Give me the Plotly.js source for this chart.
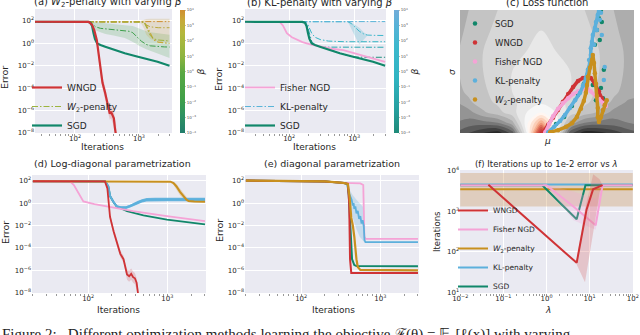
<!DOCTYPE html>
<html>
<head>
<meta charset="utf-8">
<script src="https://cdn.plot.ly/plotly-3.0.1.min.js"></script>
<style>body{margin:0;background:#fff}#chart{width:640px;height:335px}</style>
</head>
<body>
<div id="chart"></div>
<script>
// ---------- tick labels ----------
var itTickVals = [100, 1000];
var itTicks = ['10<sup>2</sup>', '10<sup>3</sup>'];
var errTickVals = [1e-8, 1e-6, 1e-4, 1e-2, 1, 100];
var errTicks = ['10<sup>−8</sup>', '10<sup>−6</sup>', '10<sup>−4</sup>', '10<sup>−2</sup>', '10<sup>0</sup>', '10<sup>2</sup>'];
var lamTickVals = [0.01, 0.1, 1, 10, 100];
var lamTicks = ['10<sup>−2</sup>', '10<sup>−1</sup>', '10<sup>0</sup>', '10<sup>1</sup>', '10<sup>2</sup>'];
var fItTickVals = [10, 100, 1000, 10000];
var fItTicks = ['10<sup>1</sup>', '10<sup>2</sup>', '10<sup>3</sup>', '10<sup>4</sup>'];
var betaTickVals = [-4, -3, -2, -1, 0, 1, 2, 3, 4];
var betaTicks = ['10<sup>−4</sup>', '10<sup>−3</sup>', '10<sup>−2</sup>', '10<sup>−1</sup>', '10<sup>0</sup>', '10<sup>1</sup>', '10<sup>2</sup>', '10<sup>3</sup>', '10<sup>4</sup>'];

// ---------- (a) / (b) ----------
var sgdIters = [20, 100, 160, 175, 185, 195, 205, 222, 250, 297, 400, 600, 900, 1300, 1950, 3000];
var sgdErr = [85, 85, 83, 70, 35, 8, 2.5, 1.0, 0.7, 0.5, 0.27, 0.13, 0.07, 0.04, 0.023, 0.01];

var wngdIters = [20, 100, 165, 185, 200, 219, 245, 269, 295, 331, 350, 365, 385, 405, 420, 440];
var wngdErr = [85, 85, 83, 45, 15, 2, 0.008, 3e-4, 4e-5, 1.2e-6, 5e-7, 8e-7, 3e-7, 2e-7, 3e-8, 5e-9];
var wngdHi = [85, 85, 83, 50, 20, 3, 0.02, 1e-3, 1.5e-4, 4e-6, 2e-6, 2.5e-6, 1.5e-6, 8e-7, 2e-7, 5e-8];
var wngdLo = [85, 85, 83, 40, 10, 1.2, 0.003, 1e-4, 1e-5, 4e-7, 1.5e-7, 2e-7, 8e-8, 4e-8, 5e-9, 1e-9];

var betaIters = [20, 100, 170, 190, 210, 250, 300, 400, 500, 600, 700, 800, 900, 1000, 1100, 1200, 1300, 1500, 1700, 2000, 2500, 3000];
var w2BetaSmall = [85, 85, 84, 50, 30, 22, 20, 18, 16, 14, 12, 9, 5, 2.5, 1.5, 1.0, 0.8, 0.6, 0.55, 0.5, 0.48, 0.47];
var w2BetaMid = [85, 85, 85, 85, 85, 85, 85, 85, 85, 85, 85, 85, 85, 85, 84, 80, 30, 5, 2.5, 2, 1.8, 1.6];
var w2BetaHigh = [85, 85, 85, 85, 85, 85, 85, 85, 85, 85, 85, 85, 85, 85, 84, 78, 40, 8, 2, 1.3, 1.1, 1.0];
var w2BetaHigher = [85, 85, 85, 85, 85, 85, 85, 85, 85, 85, 85, 85, 85, 85, 85, 70, 45, 30, 27, 25, 25, 25];
var w2BetaTop = [88, 88, 88, 88, 88, 88, 88, 88, 88, 88, 88, 88, 88, 88, 88, 88, 88, 88, 88, 88, 88, 88];
var greenHi = [85, 85, 85, 85, 85, 70, 60, 50, 45, 42, 40, 35, 28, 22, 18, 14, 12, 10, 9, 8, 7, 6];
var greenLo = [85, 85, 84, 30, 15, 10, 7, 5, 4, 3, 2, 1.4, 0.9, 0.6, 0.45, 0.35, 0.3, 0.22, 0.17, 0.12, 0.08, 0.05];
var goldIters = [1000, 1100, 1200, 1300, 1500, 1700, 2000, 2500, 3000];
var goldHi = [90, 110, 130, 150, 160, 160, 160, 160, 160];
var goldLo = [80, 50, 20, 6, 2.5, 1.8, 1.5, 1.4, 1.3];

var fisherIters = [20, 60, 72, 80, 92, 110, 132, 160, 210, 300, 450, 680, 1000, 1500, 2200, 3000];
var fisherErr = [85, 85, 80, 40, 8, 3.5, 2, 1.3, 0.8, 0.5, 0.33, 0.25, 0.13, 0.07, 0.04, 0.022];

var klIters = [20, 100, 175, 190, 205, 222, 250, 300, 400, 500, 600, 700, 800, 900, 1000, 1100, 1200, 1400, 1600, 2000, 2500, 3000];
var klTop = [88, 88, 88, 88, 88, 88, 88, 88, 88, 88, 88, 88, 88, 88, 88, 88, 88, 88, 88, 88, 88, 88];
var klLate = [85, 85, 85, 85, 85, 85, 85, 85, 85, 85, 85, 85, 85, 60, 35, 20, 12, 7, 5.5, 5.2, 5.1, 5];
var klMid = [85, 85, 85, 60, 25, 8, 3.5, 2.2, 1.6, 1.45, 1.4, 1.4, 1.4, 1.4, 1.4, 1.4, 1.4, 1.4, 1.4, 1.4, 1.4, 1.4];
var klLow = [85, 85, 80, 40, 8, 1.5, 0.7, 0.5, 0.46, 0.45, 0.45, 0.45, 0.45, 0.45, 0.45, 0.45, 0.45, 0.45, 0.45, 0.45, 0.45, 0.45];
var klLowest = [85, 85, 70, 20, 2.5, 1.0, 0.7, 0.5, 0.27, 0.19, 0.13, 0.1, 0.08, 0.065, 0.06, 0.058, 0.057, 0.057, 0.057, 0.057, 0.057, 0.057];
var klBandIters = [800, 900, 1000, 1100, 1200, 1400, 1600];
var klBandHi = [88, 75, 50, 35, 25, 10, 6];
var klBandLo = [85, 20, 5, 2, 0.8, 2, 5];

// ---------- (c) loss landscape + trajectories ----------
var muGrid = [-3, -2.5, -2, -1.5, -1, -0.5, 0, 0.5, 1, 1.5, 2, 2.5, 3, 3.5];
var sigmaGrid = [0, 0.25, 0.5, 0.75, 1, 1.5, 2, 2.5, 3];
var lossGrid = [
  [0.85, 0.9, 0.95, 0.98, 0.88, 0.55, 0.05, 0.55, 0.88, 0.98, 0.97, 0.93, 0.88, 0.85],
  [0.8, 0.82, 0.82, 0.8, 0.72, 0.52, 0.3, 0.52, 0.72, 0.8, 0.82, 0.82, 0.8, 0.78],
  [0.8, 0.77, 0.71, 0.67, 0.62, 0.55, 0.5, 0.55, 0.62, 0.67, 0.71, 0.77, 0.8, 0.8],
  [0.76, 0.71, 0.67, 0.64, 0.61, 0.58, 0.56, 0.58, 0.61, 0.64, 0.67, 0.71, 0.76, 0.77],
  [0.72, 0.69, 0.66, 0.63, 0.6, 0.58, 0.57, 0.58, 0.6, 0.63, 0.66, 0.69, 0.72, 0.73],
  [0.71, 0.68, 0.65, 0.63, 0.6, 0.59, 0.58, 0.59, 0.6, 0.63, 0.65, 0.68, 0.71, 0.72],
  [0.71, 0.68, 0.65, 0.63, 0.61, 0.6, 0.59, 0.6, 0.61, 0.63, 0.65, 0.68, 0.71, 0.72],
  [0.72, 0.69, 0.66, 0.64, 0.62, 0.61, 0.6, 0.61, 0.62, 0.64, 0.66, 0.69, 0.72, 0.73],
  [0.73, 0.7, 0.67, 0.65, 0.63, 0.62, 0.61, 0.62, 0.63, 0.65, 0.67, 0.7, 0.73, 0.74]
];
var sgdMu = [0.17, 0.51, 0.79, 1.06, 1.27, 1.47, 1.61, 1.75, 1.85, 1.92, 1.99, 2.06, 2.09, 2.02, 2.16, 2.06, 2.13, 1.78, 1.89];
var sgdSigma = [0.05, 0.22, 0.39, 0.66, 0.93, 1.2, 1.44, 1.78, 2.15, 2.51, 2.8, 3.0, 2.71, 2.27, 1.54, 1.1, 0.85, 1.17, 0.8];
var wngdMu = [0.07, 0.24, 0.41, 0.58, 0.75, 0.93, 1.10, 1.27, 1.44, 1.58, 1.71, 1.85, 1.99, 2.09, 2.19];
var wngdSigma = [0.02, 0.2, 0.37, 0.56, 0.76, 0.95, 1.12, 1.27, 1.34, 1.37, 1.34, 1.2, 1.02, 0.85, 0.68];
var fisherMu = [0.14, 0.27, 0.41, 0.58, 0.75, 0.93, 1.10, 1.27, 1.44, 1.58, 1.71, 1.85, 1.99, 2.13, 2.23];
var fisherSigma = [0.02, 0.22, 0.41, 0.59, 0.73, 0.85, 0.95, 1.02, 1.07, 1.1, 1.02, 0.93, 0.83, 0.73, 0.66];
var klMu = [0.24, 0.45, 0.65, 0.82, 0.99, 1.17, 1.34, 1.44, 1.54, 1.61, 1.68, 1.71, 1.71, 1.75, 1.78, 1.85, 1.89, 1.95, 1.99, 2.06, 1.92, 1.82, 1.65, 2.19, 2.16, 2.02, 2.09];
var klSigma = [0.02, 0.15, 0.29, 0.44, 0.61, 0.8, 0.98, 1.15, 1.34, 1.54, 1.71, 1.9, 2.07, 2.22, 2.39, 2.56, 2.71, 2.88, 3.0, 2.93, 2.51, 2.15, 1.78, 1.61, 1.29, 2.76, 2.39];
var w2Mu = [0.31, 0.58, 0.86, 1.06, 1.23, 1.37, 1.47, 1.54, 1.58, 1.61, 1.68, 1.75, 1.78, 1.82, 1.85, 1.89, 1.92, 1.95, 1.95, 1.99, 2.06, 2.13, 2.19, 2.26];
var w2Sigma = [0.02, 0.07, 0.15, 0.24, 0.39, 0.59, 0.78, 0.98, 1.17, 1.37, 1.59, 1.78, 1.9, 1.71, 1.46, 1.2, 0.9, 0.61, 0.39, 0.27, 0.39, 0.56, 0.68, 0.8];

// ---------- (d) log-diagonal ----------
var dW2Iters = [20, 1000, 1100, 1200, 1310, 1450, 1590, 1750, 1870, 2200, 3000];
var dW2Err = [88, 86, 80, 60, 30, 10, 4, 2, 1.5, 1.35, 1.3];
var dW2Hi = [88, 88, 88, 80, 50, 20, 8, 3, 2, 1.6, 1.5];
var dW2Lo = [88, 85, 70, 40, 15, 5, 2.5, 1.4, 1.2, 1.15, 1.1];
var dKlIters = [20, 150, 165, 180, 190, 210, 230, 260, 300, 340, 372, 420, 480, 550, 700, 1000, 3000];
var dKlErr = [88, 88, 85, 30, 4, 1.2, 0.5, 0.4, 0.4, 0.55, 0.75, 1.1, 1.6, 2.0, 2.1, 2.1, 2.1];
var dKlHi = [88, 88, 86, 35, 5, 1.5, 0.65, 0.52, 0.52, 0.7, 1.0, 1.5, 2.2, 2.9, 3.0, 3.0, 3.0];
var dKlLo = [88, 88, 84, 25, 3, 0.9, 0.38, 0.3, 0.3, 0.4, 0.55, 0.8, 1.15, 1.4, 1.45, 1.45, 1.45];
var dSgdIters = [20, 150, 165, 180, 190, 210, 230, 310, 500, 990, 2000, 3000];
var dSgdErr = [88, 88, 85, 30, 4, 1.2, 0.5, 0.19, 0.08, 0.034, 0.018, 0.0126];
var dFisherIters = [20, 50, 59, 66, 75, 87, 120, 174, 370, 990, 3000];
var dFisherErr = [88, 88, 85, 40, 8, 1.4, 0.8, 0.5, 0.19, 0.068, 0.025];
var dWngdIters = [20, 150, 163, 175, 189, 210, 230, 255, 280, 310, 330, 350, 370, 390, 410, 430];
var dWngdErr = [88, 88, 85, 20, 0.06, 0.003, 3e-4, 3e-5, 1e-5, 4.4e-7, 3e-7, 5e-7, 2.5e-7, 2e-7, 8e-8, 6e-9];
var dWngdHi = [88, 88, 85, 25, 0.1, 0.006, 6e-4, 6e-5, 2e-5, 1.2e-6, 1e-6, 1.5e-6, 8e-7, 6e-7, 2e-7, 2e-8];
var dWngdLo = [88, 88, 85, 15, 0.03, 0.0015, 1.5e-4, 1.5e-5, 5e-6, 1.5e-7, 1e-7, 1.5e-7, 8e-8, 6e-8, 2e-8, 2e-9];

// ---------- (e) diagonal ----------
var ePinkIters = [20, 100, 200, 340, 560, 610, 630, 650, 3000];
var ePinkErr = [100, 95, 85, 63, 56, 40, 1e-3, 6.6e-4, 6.6e-4];
var eBlueIters = [20, 100, 200, 340, 385, 400, 435, 450, 460, 470, 485, 500, 520, 540, 560, 580, 600, 620, 632, 650, 3000];
var eBlueErr = [100, 95, 85, 63, 50, 8, 2, 0.6, 1.0, 0.3, 0.5, 0.12, 0.2, 0.04, 0.07, 0.015, 0.03, 0.008, 5e-4, 3.3e-4, 3.3e-4];
var eBlueBandIters = [400, 450, 500, 550, 600, 630];
var eBlueBandHi = [20, 5, 2, 1, 0.5, 0.2];
var eBlueBandLo = [2, 0.05, 0.005, 0.001, 5e-4, 3e-4];
var eGreenIters = [20, 100, 200, 340, 385, 400, 420, 440, 470, 500, 3000];
var eGreenErr = [100, 95, 85, 63, 50, 5, 1e-3, 1e-5, 3e-6, 2.5e-6, 2.3e-6];
var eGoldIters = [20, 100, 200, 340, 390, 410, 430, 450, 470, 500, 520, 560, 3000];
var eGoldErr = [100, 95, 85, 63, 50, 3, 0.05, 0.01, 1e-3, 1e-5, 2e-6, 1.1e-6, 1e-6];
var eRedIters = [20, 100, 200, 340, 390, 405, 415, 430, 3000];
var eRedErr = [100, 95, 85, 63, 52, 1, 1e-5, 6e-7, 6e-7];

// ---------- (f) iterations vs lambda ----------
var fSgdLam = [0.01, 0.8, 5, 8, 100];
var fSgdIt = [4300, 4300, 630, 4300, 4300];
var fWngdLam = [0.045, 5, 8.5, 12, 20];
var fWngdIt = [4400, 54, 1100, 3400, 4300];
var fWngdBandLam = [5, 7.8, 12.1, 17, 20];
var fWngdBandHi = [65, 1100, 8000, 6000, 4300];
var fWngdBandLo = [49, 18, 300, 2900, 4200];
var fFisherLam = [0.01, 1, 4.2, 13.8, 20, 100];
var fFisherIt = [4300, 4300, 1300, 450, 4300, 4300];
var fFisherBandLam = [1, 4.2, 13.8, 20];
var fFisherBandHi = [4400, 3000, 2000, 4400];
var fFisherBandLo = [4200, 600, 350, 4200];
var fKlLam = [0.01, 100];
var fKlIt = [4500, 4500];
var fW2Lam = [0.01, 100];
var fW2It = [3400, 3400];
var fW2Hi = [8500, 8500];
var fW2Lo = [1290, 1290];

// ---------- colours ----------
var cSgd = '#11876a', cWngd = '#cf3336', cFisher = '#f5a3d6', cKl = '#5cb0dc', cW2 = '#c8901e';
var w2Scale = [[0, '#217d6c'], [0.14, '#2e9262'], [0.28, '#40a048'], [0.49, '#5aa842'], [0.62, '#8db43f'], [0.81, '#b4b83c'], [0.92, '#c8a838'], [1, '#cf8e30']];
var klScale = [[0, '#1f8a78'], [0.2, '#26a0a0'], [0.45, '#30b4c2'], [0.7, '#3cb8cc'], [0.88, '#58b2d8'], [1, '#72acd8']];
var lossScale = [[0, '#b2182b'], [0.2, '#d6604d'], [0.3, '#f4a582'], [0.4, '#fddbc7'], [0.5, '#ffffff'], [0.6, '#e0e0e0'], [0.7, '#bababa'], [0.8, '#878787'], [0.9, '#4d4d4d'], [1, '#1a1a1a']];
var dashDot = '6px,2px,1.5px,2px';

function curve(x, y, xa, ya, color, width, name, legend, rank, dash) {
  return {x: x, y: y, xaxis: xa, yaxis: ya, type: 'scatter', mode: 'lines', name: name || '',
    line: {color: color, width: width, dash: dash || 'solid'}, showlegend: !!name,
    legend: legend || 'legend', legendrank: rank || 1000, hoverinfo: 'skip'};
}
function band(x, lo, hi, xa, ya, fillcolor) {
  return [
    {x: x, y: lo, xaxis: xa, yaxis: ya, type: 'scatter', mode: 'lines', line: {width: 0}, showlegend: false, hoverinfo: 'skip'},
    {x: x, y: hi, xaxis: xa, yaxis: ya, type: 'scatter', mode: 'lines', line: {width: 0}, fill: 'tonexty', fillcolor: fillcolor, showlegend: false, hoverinfo: 'skip'}
  ];
}
function dots(x, y, color, name, withLine) {
  var t = [];
  if (withLine) t.push({x: x, y: y, xaxis: 'x3', yaxis: 'y3', type: 'scatter', mode: 'lines', line: {color: color, width: 3.5}, showlegend: false, hoverinfo: 'skip'});
  t.push({x: x, y: y, xaxis: 'x3', yaxis: 'y3', type: 'scatter', mode: 'markers', name: name, legend: 'legend3',
    marker: {color: color, size: 4.5}, hoverinfo: 'skip'});
  return t;
}
function betaBar(xa, ya, scale, xpx) {
  return {x: [1, 1], y: [1, 1], xaxis: xa, yaxis: ya, type: 'scatter', mode: 'markers', showlegend: false, hoverinfo: 'skip',
    marker: {size: 1, color: [-4, 4], cmin: -4, cmax: 4, colorscale: scale, showscale: true,
      colorbar: {x: xpx / 640, xanchor: 'left', y: 1 - 71.5 / 335, yanchor: 'middle', len: 123 / 335, lenmode: 'fraction',
        thickness: 5, thicknessmode: 'pixels', xpad: 0, ypad: 0, outlinewidth: 0,
        tickmode: 'array', tickvals: betaTickVals, ticktext: betaTicks, tickfont: {size: 4, color: '#555'},
        ticks: 'outside', ticklen: 1.5, tickwidth: 0.5, tickcolor: '#777',
        title: {text: '<i>β</i>', side: 'right', font: {size: 9, color: '#262626'}}}}};
}

var data = [];
// (a)
data = data.concat(band(betaIters, greenLo, greenHi, 'x', 'y', 'rgba(64,160,72,0.2)'));
data = data.concat(band(goldIters, goldLo, goldHi, 'x', 'y', 'rgba(200,165,70,0.22)'));
data = data.concat(band(wngdIters, wngdLo, wngdHi, 'x', 'y', 'rgba(207,51,54,0.2)'));
data.push(curve(betaIters, w2BetaSmall, 'x', 'y', '#3d9f4a', 1, '', 'legend', 2, dashDot));
data.push(curve(betaIters, w2BetaHigher, 'x', 'y', '#b9a83c', 1, '', 'legend', 2, dashDot));
data.push(curve(betaIters, w2BetaTop, 'x', 'y', '#cf8e30', 1, '', 'legend', 2, dashDot));
data.push(curve(betaIters, w2BetaHigh, 'x', 'y', '#c7a536', 1.2, '', 'legend', 2, dashDot));
data.push(curve(betaIters, w2BetaMid, 'x', 'y', '#9cb43e', 1, '<i>W</i><sub>2</sub>-penalty', 'legend', 2, dashDot));
data.push(curve(sgdIters, sgdErr, 'x', 'y', cSgd, 2.2, 'SGD', 'legend', 3));
data.push(curve(wngdIters, wngdErr, 'x', 'y', cWngd, 2.2, 'WNGD', 'legend', 1));
// (b)
data = data.concat(band(klBandIters, klBandLo, klBandHi, 'x2', 'y2', 'rgba(70,180,205,0.25)'));
data.push(curve(klIters, klLowest, 'x2', 'y2', '#24907e', 1, '', 'legend2', 2, dashDot));
data.push(curve(klIters, klLow, 'x2', 'y2', '#2aa8b0', 1, '', 'legend2', 2, dashDot));
data.push(curve(klIters, klMid, 'x2', 'y2', '#35b5c5', 1, '', 'legend2', 2, dashDot));
data.push(curve(klIters, klLate, 'x2', 'y2', '#3fb8cc', 1, '', 'legend2', 2, dashDot));
data.push(curve(klIters, klTop, 'x2', 'y2', '#5ab4d8', 1, 'KL-penalty', 'legend2', 2, dashDot));
data.push(curve(fisherIters, fisherErr, 'x2', 'y2', cFisher, 1.8, 'Fisher NGD', 'legend2', 1));
data.push(curve(sgdIters, sgdErr, 'x2', 'y2', cSgd, 2.2, 'SGD', 'legend2', 3));
// (c)
data.push({type: 'contour', x: muGrid, y: sigmaGrid, z: lossGrid, xaxis: 'x3', yaxis: 'y3',
  colorscale: lossScale, zmin: 0, zmax: 1, showscale: false, hoverinfo: 'skip',
  contours: {start: 0, end: 1, size: 0.05, coloring: 'fill', showlines: false}, line: {width: 0}});
data = data.concat(dots(sgdMu, sgdSigma, cSgd, 'SGD', false));
data = data.concat(dots(wngdMu, wngdSigma, cWngd, 'WNGD', true));
data = data.concat(dots(fisherMu, fisherSigma, cFisher, 'Fisher NGD', true));
data = data.concat(dots(klMu.slice(0, 19), klSigma.slice(0, 19), cKl, 'KL-penalty', true).slice(0, 1));
data = data.concat(dots(klMu, klSigma, cKl, 'KL-penalty', false));
data = data.concat(dots(w2Mu, w2Sigma, cW2, '<i>W</i><sub>2</sub>-penalty', true));
// (d)
data = data.concat(band(dW2Iters, dW2Lo, dW2Hi, 'x4', 'y4', 'rgba(200,144,30,0.25)'));
data = data.concat(band(dKlIters, dKlLo, dKlHi, 'x4', 'y4', 'rgba(92,176,220,0.9)'));
data = data.concat(band(dWngdIters, dWngdLo, dWngdHi, 'x4', 'y4', 'rgba(207,51,54,0.2)'));
data.push(curve(dSgdIters, dSgdErr, 'x4', 'y4', cSgd, 1.8));
data.push(curve(dKlIters, dKlErr, 'x4', 'y4', cKl, 2));
data.push(curve(dFisherIters, dFisherErr, 'x4', 'y4', cFisher, 1.8));
data.push(curve(dW2Iters, dW2Err, 'x4', 'y4', cW2, 2));
data.push(curve(dWngdIters, dWngdErr, 'x4', 'y4', cWngd, 1.8));
// (e)
data = data.concat(band(eBlueBandIters, eBlueBandLo, eBlueBandHi, 'x5', 'y5', 'rgba(92,176,220,0.25)'));
data.push(curve(ePinkIters, ePinkErr, 'x5', 'y5', cFisher, 1.8));
data.push(curve(eBlueIters, eBlueErr, 'x5', 'y5', cKl, 1.8));
data.push(curve(eGreenIters, eGreenErr, 'x5', 'y5', cSgd, 2));
data.push(curve(eRedIters, eRedErr, 'x5', 'y5', cWngd, 2));
data.push(curve(eGoldIters, eGoldErr, 'x5', 'y5', cW2, 2.2));
// (f)
data = data.concat(band(fW2Lam, fW2Lo, fW2Hi, 'x6', 'y6', 'rgba(200,140,70,0.3)'));
data.push(curve(fW2Lam, fW2It, 'x6', 'y6', cW2, 2, '<i>W</i><sub>2</sub>-penalty', 'legend4', 3));
data.push(curve(fKlLam, fKlIt, 'x6', 'y6', cKl, 2, 'KL-penalty', 'legend4', 4));
data.push(curve(fSgdLam, fSgdIt, 'x6', 'y6', cSgd, 2, 'SGD', 'legend4', 5));
data = data.concat(band(fFisherBandLam, fFisherBandLo, fFisherBandHi, 'x6', 'y6', 'rgba(245,163,214,0.25)'));
data.push(curve(fFisherLam, fFisherIt, 'x6', 'y6', cFisher, 2, 'Fisher NGD', 'legend4', 2));
data = data.concat(band(fWngdBandLam, fWngdBandLo, fWngdBandHi, 'x6', 'y6', 'rgba(215,110,110,0.3)'));
data.push(curve(fWngdLam, fWngdIt, 'x6', 'y6', cWngd, 2, 'WNGD', 'legend4', 1));
// colour bars for beta
data.push(betaBar('x', 'y', w2Scale, 180));
data.push(betaBar('x2', 'y2', klScale, 394));

// ---------- layout ----------
function hdom(a, b) { return [a / 640, b / 640]; }
function vdom(top, bottom) { return [1 - bottom / 335, 1 - top / 335]; }
var tickFont = {family: 'DejaVu Sans', size: 7, color: '#262626'};
function axis(domain, anchor, range, vals, texts, minor) {
  var ax = {type: 'log', domain: domain, anchor: anchor, range: range, tickmode: 'array', tickvals: vals, ticktext: texts,
    showgrid: true, gridcolor: '#ffffff', gridwidth: 1, zeroline: false, showline: false, ticks: '', tickfont: tickFont};
  if (minor) ax.minor = {dtick: 'D1', ticks: 'outside', ticklen: 2, tickwidth: 0.6, tickcolor: '#555', showgrid: false};
  return ax;
}
function note(text, x, y, size, extra) {
  var a = {text: text, x: x / 640, y: 1 - y / 335, xref: 'paper', yref: 'paper', showarrow: false,
    xanchor: 'center', yanchor: 'middle', font: {family: 'DejaVu Sans', size: size, color: '#262626'}};
  for (var k in extra) a[k] = extra[k];
  return a;
}
var legendBase = {xanchor: 'left', yanchor: 'top', bgcolor: 'rgba(0,0,0,0)', itemwidth: 30, tracegroupgap: 0, traceorder: 'normal'};
function legendAt(x, y, size) {
  var l = {x: x / 640, y: 1 - y / 335, font: {family: 'DejaVu Sans', size: size, color: '#262626'}};
  for (var k in legendBase) l[k] = legendBase[k];
  return l;
}

var layout = {
  width: 640, height: 335,
  margin: {l: 0, r: 0, t: 0, b: 0},
  paper_bgcolor: '#ffffff', plot_bgcolor: '#eaeaf2',
  font: {family: 'DejaVu Sans', color: '#262626'},
  showlegend: true,
  xaxis: axis(hdom(35, 172), 'y', [1.375, 3.516], itTickVals, itTicks, true),
  yaxis: axis(vdom(9, 133), 'x', [-8.01, 3.07], errTickVals, errTicks),
  xaxis2: axis(hdom(245, 386), 'y2', [1.32, 3.49], itTickVals, itTicks, true),
  yaxis2: axis(vdom(9, 133), 'x2', [-8.01, 3.07], errTickVals, errTicks),
  xaxis3: {domain: hdom(460, 634), anchor: 'y3', range: [-2.8, 3.2], showticklabels: false, showgrid: false, zeroline: false, ticks: ''},
  yaxis3: {domain: vdom(10, 133), anchor: 'x3', range: [0, 3], showticklabels: false, showgrid: false, zeroline: false, ticks: ''},
  xaxis4: axis(hdom(32, 206), 'y4', [1.29, 3.49], itTickVals, itTicks, true),
  yaxis4: axis(vdom(175, 293), 'x4', [-8.01, 2.5], errTickVals, errTicks),
  xaxis5: axis(hdom(245, 419), 'y5', [1.29, 3.49], itTickVals, itTicks, true),
  yaxis5: axis(vdom(175, 293), 'x5', [-8.01, 2.5], errTickVals, errTicks),
  xaxis6: axis(hdom(460, 633), 'y6', [-2.005, 2.005], lamTickVals, lamTicks, true),
  yaxis6: axis(vdom(170, 293), 'x6', [0.995, 4.005], fItTickVals, fItTicks),
  legend: legendAt(27, 73, 9),
  legend2: legendAt(240, 73, 9),
  legend3: legendAt(455, 9, 8.5),
  legend4: legendAt(453, 196, 7.5),
  annotations: [
    note('(a) <i>W</i><sub>2</sub>-penalty with varying <i>β</i>', 108, 3, 10),
    note('(b) KL-penalty with varying <i>β</i>', 320, 3, 10),
    note('(c) Loss function', 547, 3, 10),
    note('(d) Log-diagonal parametrization', 112, 164, 9.5),
    note('(e) diagonal parametrization', 332, 164, 9.5),
    note('(f) Iterations up to 1e-2 error vs <i>λ</i>', 546, 164, 8.5),
    note('Iterations', 102, 147, 9),
    note('Iterations', 314, 147, 9),
    note('Iterations', 118, 310, 9),
    note('Iterations', 333, 310, 9),
    note('<i>λ</i>', 548, 310, 9),
    note('<i>μ</i>', 547, 141, 9),
    note('Error', 5, 78, 9.5, {textangle: -90}),
    note('Error', 218, 80, 9.5, {textangle: -90}),
    note('Error', 5, 233, 9.5, {textangle: -90}),
    note('Error', 219, 231, 9.5, {textangle: -90}),
    note('Iterations', 437, 232, 8.5, {textangle: -90}),
    note('<i>σ</i>', 452, 72, 9, {textangle: -90}),
    note('Figure 2:   Different optimization methods learning the objective ℱ(θ) = 𝔼<sub>p</sub>[ℓ(x)] with varying', 0, 335, 15,
      {xanchor: 'left', font: {family: 'Liberation Serif', size: 15, color: '#222'}})
  ]
};

Plotly.newPlot('chart', data, layout, {displayModeBar: false, staticPlot: true});
</script>
</body>
</html>
